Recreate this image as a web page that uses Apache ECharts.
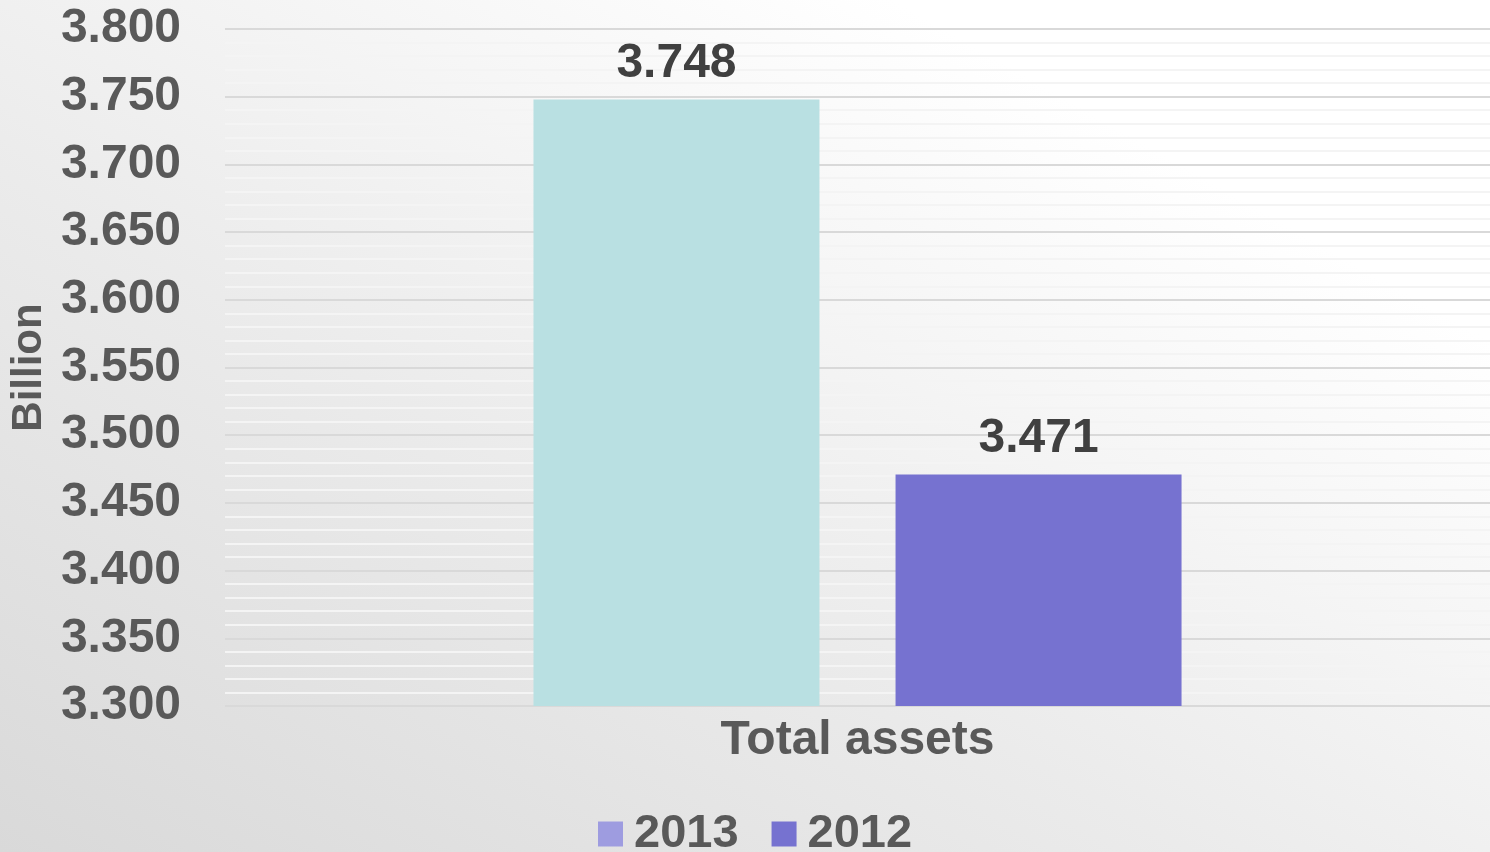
<!DOCTYPE html>
<html>
<head>
<meta charset="utf-8">
<script src="https://cdn.jsdelivr.net/npm/echarts@6/dist/echarts.min.js"></script>
<style>
html,body{margin:0;padding:0;}
#c{width:1490px;height:852px;background:linear-gradient(to top right,#d9d9d9 0%,#ebebeb 40%,#ffffff 80%);}
</style>
</head>
<body>
<div id="c"></div>
<script>
const categories = ['Total assets'];
const seriesNames = ['2013', '2012'];
const values2013 = [3.748];
const values2012 = [3.471];
const yTicks = { min: 3.3, max: 3.8, interval: 0.05 };
const axisName = 'Billion';

const font = '"Liberation Sans", Arial, sans-serif';
const textColor = '#595959';
const chart = echarts.init(document.getElementById('c'));
chart.setOption({
  backgroundColor: 'transparent',
  textStyle: { fontFamily: font },
  grid: { left: 225, right: -8, top: 29, bottom: 146 },
  legend: {
    left: 598, top: 810, padding: 0,
    itemWidth: 25, itemHeight: 25, itemGap: 33,
    icon: 'rect',
    textStyle: { fontSize: 47, fontWeight: 'bold', color: textColor, fontFamily: font, lineHeight: 48, padding: [0,0,0,6] },
    data: [
      { name: seriesNames[0], itemStyle: { color: '#9e9ce0' } },
      { name: seriesNames[1], itemStyle: { color: '#7672d0' } }
    ]
  },
  xAxis: {
    type: 'category', data: categories,
    axisLine: { show: false }, axisTick: { show: false },
    axisLabel: { fontSize: 48, fontWeight: 'bold', color: textColor, fontFamily: font, margin: 11 }
  },
  yAxis: {
    type: 'value', min: yTicks.min, max: yTicks.max, interval: yTicks.interval,
    name: axisName, nameLocation: 'middle', nameGap: 173, nameRotate: 90,
    nameTextStyle: { fontSize: 42, fontWeight: 'bold', color: textColor, fontFamily: font },
    axisLine: { show: false }, axisTick: { show: false },
    axisLabel: { fontSize: 48, fontWeight: 'bold', color: textColor, fontFamily: font, margin: 44, padding: [5,0,0,0], formatter: v => v.toFixed(3) },
    splitLine: { lineStyle: { color: '#d9d9d9', width: 2 } },
    minorTick: { show: false, splitNumber: 5 },
    minorSplitLine: { show: true, lineStyle: { color: '#f4f4f4', width: 2 } }
  },
  series: [
    {
      name: seriesNames[0], type: 'bar', data: values2013,
      barWidth: 286, barGap: '26.6%',
      itemStyle: { color: '#b9e0e2' },
      label: { show: true, position: 'top', distance: 12, fontSize: 48, fontWeight: 'bold', color: '#404040', fontFamily: font, formatter: p => p.value.toFixed(3) }
    },
    {
      name: seriesNames[1], type: 'bar', data: values2012,
      barWidth: 286, barGap: '26.6%',
      itemStyle: { color: '#7672d0' },
      label: { show: true, position: 'top', distance: 12, fontSize: 48, fontWeight: 'bold', color: '#404040', fontFamily: font, formatter: p => p.value.toFixed(3) }
    }
  ]
});
</script>
</body>
</html>
